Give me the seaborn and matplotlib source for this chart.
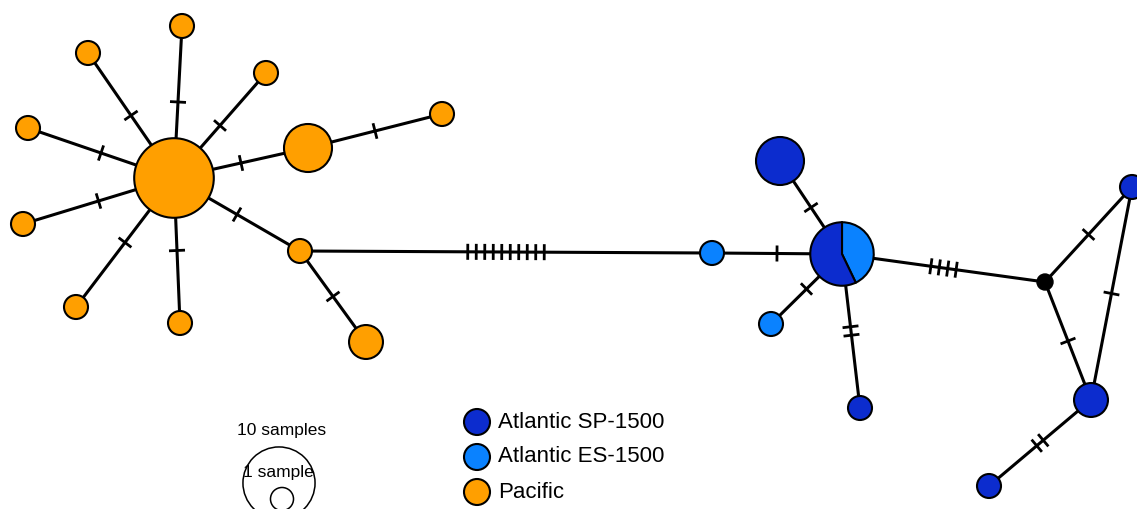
import numpy as np
import pandas as pd
import seaborn as sns
import matplotlib
matplotlib.use("Agg")
import matplotlib.pyplot as plt
from matplotlib.patches import Circle, Wedge

# haplotype nodes (layout positions in pixel space of the network drawing)
node_x = [174, 182, 88, 266, 28, 308, 442, 23, 76, 180, 300, 366,
          712, 771, 780, 860, 1132, 1091, 989]
node_y = [178, 26, 53, 73, 128, 148, 114, 224, 307, 323, 251, 342,
          253, 324, 161, 408, 187, 400, 486]
node_n = [11, 1, 1, 1, 1, 4, 1, 1, 1, 1, 1, 2,
          1, 1, 4, 1, 1, 2, 1]
node_pop = ["Pacific"] * 12 + ["Atlantic ES-1500"] * 2 + ["Atlantic SP-1500"] * 5

# mixed haplotype (pie)
pie_xy = (842, 254)
pie_counts = {"Atlantic SP-1500": 4, "Atlantic ES-1500": 3}

# median vector
median_xy = (1045, 282)

# edges: node ids (19 = pie, 20 = median) and mutation counts
edge_a = [0, 0, 0, 0, 0, 5, 0, 0, 0, 0, 10, 10, 12, 19, 19, 19, 19, 20, 20, 16, 17]
edge_b = [1, 2, 3, 4, 5, 6, 7, 8, 9, 10, 11, 12, 19, 14, 13, 15, 20, 16, 17, 17, 18]
edge_mut = [1, 1, 1, 1, 1, 1, 1, 1, 1, 1, 1, 10, 1, 1, 1, 2, 4, 1, 1, 1, 2]

legend_labels = ["Atlantic SP-1500", "Atlantic ES-1500", "Pacific"]
colors = {"Pacific": "#FF9F00", "Atlantic SP-1500": "#0C2CCE", "Atlantic ES-1500": "#0A82FF"}

base_r = 12.0  # radius (px) of a single-sample haplotype

sns.set_theme(style="white")
plt.rcParams["font.family"] = ["Liberation Sans", "DejaVu Sans"]
plt.rcParams["text.color"] = "black"

fig = plt.figure(figsize=(11.37, 5.09), dpi=100)
ax = fig.add_axes([0, 0, 1, 1])
ax.set_xlim(0, 1137)
ax.set_ylim(509, 0)
ax.set_aspect("equal")
ax.axis("off")

all_x = node_x + [pie_xy[0], median_xy[0]]
all_y = node_y + [pie_xy[1], median_xy[1]]

# edges and mutation ticks
for a, b, k in zip(edge_a, edge_b, edge_mut):
    x0, y0, x1, y1 = all_x[a], all_y[a], all_x[b], all_y[b]
    ax.plot([x0, x1], [y0, y1], color="black", lw=2.2, zorder=1, solid_capstyle="butt")
    d = np.array([x1 - x0, y1 - y0], dtype=float)
    d /= np.hypot(*d)
    p = np.array([-d[1], d[0]])
    mid = np.array([(x0 + x1) / 2, (y0 + y1) / 2])
    for j in range(k):
        c = mid + d * (j - (k - 1) / 2) * 8.5
        ax.plot([c[0] - p[0] * 8, c[0] + p[0] * 8], [c[1] - p[1] * 8, c[1] + p[1] * 8],
                color="black", lw=2.0, zorder=2, solid_capstyle="butt")

# single-population haplotypes
df = pd.DataFrame({"x": node_x, "y": node_y, "n": node_n, "pop": node_pop})
size_map = {n: (2 * base_r * np.sqrt(n) * 0.72) ** 2 for n in sorted(set(node_n))}
sns.scatterplot(data=df, x="x", y="y", hue="pop", size="n", sizes=size_map,
                palette=colors, edgecolor="black", linewidth=1.5, legend=False,
                ax=ax, zorder=3)
ax.set_xlabel("")
ax.set_ylabel("")

# mixed haplotype as pie
total = sum(pie_counts.values())
pie_r = base_r * np.sqrt(total)
start = -90.0
for pop in ["Atlantic ES-1500", "Atlantic SP-1500"]:
    span = 360.0 * pie_counts[pop] / total
    ax.add_patch(Wedge(pie_xy, pie_r, start, start + span, facecolor=colors[pop],
                       edgecolor="black", lw=1.5, zorder=3))
    start += span

# median vector
ax.add_patch(Circle(median_xy, 8, facecolor="black", edgecolor="black", zorder=3))

# colour legend
for i, lab in enumerate(legend_labels):
    ly = 422 + i * 35
    ax.add_patch(Circle((477, ly), 13, facecolor=colors[lab], edgecolor="black", lw=1.5, zorder=3))
    ax.text(498, ly, lab, fontsize=16, va="center", ha="left", color="black")

# size legend
ax.add_patch(Circle((279, 483), base_r * np.sqrt(10) * 0.95, facecolor="none", edgecolor="black", lw=1.1))
ax.add_patch(Circle((282, 499), base_r * 0.96, facecolor="none", edgecolor="black", lw=1.1))
ax.text(282, 431, "10 samples", fontsize=12.5, ha="center", va="center", color="black")
ax.text(278, 473, "1 sample", fontsize=12.5, ha="center", va="center", color="black")

fig.savefig("out.png", dpi=100)
